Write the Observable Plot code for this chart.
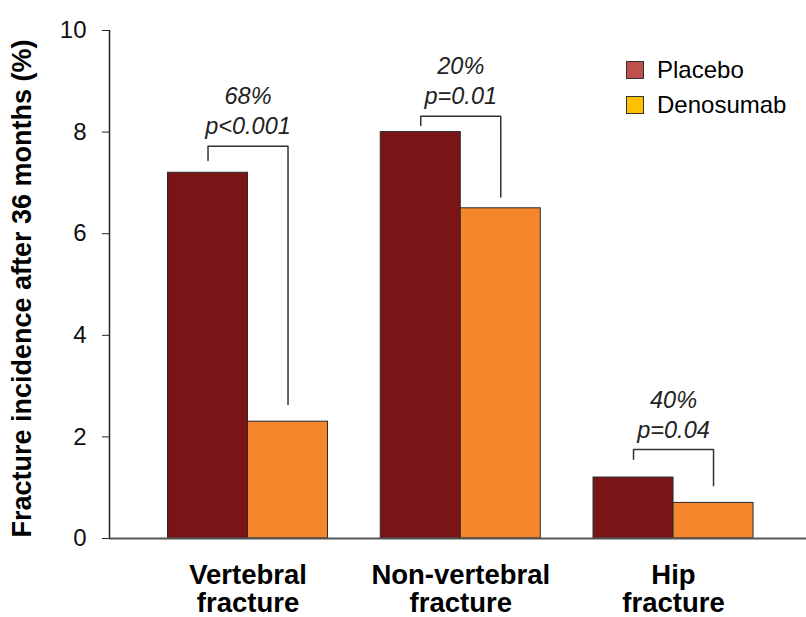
<!DOCTYPE html>
<html><head><meta charset="utf-8">
<script src="https://cdn.jsdelivr.net/npm/d3@7"></script>
<script src="https://cdn.jsdelivr.net/npm/@observablehq/plot@0.6"></script>
<style>
body{margin:0;background:#fff;font-family:"Liberation Sans",Arial,sans-serif}
#wrap{position:relative;width:806px;height:617px}
.legend{position:absolute;left:626px;top:61px;font-size:24px;color:#000;line-height:18px}
.item{display:flex;align-items:center;height:18px;margin-bottom:17px}
.sw{width:16px;height:16px;border:1px solid #333;margin-right:13px;flex:none}
</style></head><body><div id="wrap"></div>
<script>
const categories = ["Vertebral\nfracture", "Non-vertebral\nfracture", "Hip\nfracture"];
const series = ["Placebo", "Denosumab"];
const placebo = [7.2, 8.0, 1.2];
const denosumab = [2.3, 6.5, 0.7];
const reduction = ["68%", "20%", "40%"];
const pValues = ["p<0.001", "p=0.01", "p=0.04"];
const bracketTop = [7.72, 8.31, 1.75];
const bracketLeftEnd = [7.44, 8.13, 1.56];
const bracketRightEnd = [2.64, 6.72, 1.04];
const yTicks = [0, 2, 4, 6, 8, 10];
const yLabel = "Fracture incidence after 36 months (%)";
const barColors = ["#7B1416", "#F5862B"];
const legendColors = ["#C0504D", "#FFC000"];

const bw = 0.376;
const xDomain = [-0.651, 2.625];

const bars = categories.flatMap((c, i) => [
  {i, s: series[0], v: placebo[i], x1: i - bw, x2: i},
  {i, s: series[1], v: denosumab[i], x1: i, x2: i + bw}
]);
const bracketPts = categories.flatMap((c, i) => [
  {z: i, x: i - bw / 2, y: bracketLeftEnd[i]},
  {z: i, x: i - bw / 2, y: bracketTop[i]},
  {z: i, x: i + bw / 2, y: bracketTop[i]},
  {z: i, x: i + bw / 2, y: bracketRightEnd[i]}
]);
const notes = categories.map((c, i) => ({x: i, y: bracketTop[i], t: reduction[i] + "\n" + pValues[i]}));

const chart = Plot.plot({
  width: 806, height: 617,
  marginLeft: 109, marginRight: 0, marginTop: 30, marginBottom: 79,
  style: {fontFamily: '"Liberation Sans", Arial, sans-serif', background: "white", color: "#222"},
  x: {domain: xDomain},
  y: {domain: [0, 10]},
  color: {domain: series, range: barColors},
  marks: [
    Plot.rectY(bars, {x1: "x1", x2: "x2", y: "v", fill: "s", stroke: "#2a2a2a", strokeWidth: 1}),
    Plot.ruleY([0], {stroke: "#555", strokeWidth: 2}),
    Plot.ruleX([xDomain[0]], {y1: 0, y2: 10, stroke: "#222", strokeWidth: 1.5}),
    Plot.line(bracketPts, {x: "x", y: "y", z: "z", stroke: "#333", strokeWidth: 1.5, curve: "linear"}),
    Plot.text(notes, {x: "x", y: "y", text: "t", lineAnchor: "bottom", dy: -12, lineHeight: 1.28,
      fontSize: 23.5, fontStyle: "italic", fill: "#222"}),
    Plot.axisY({ticks: yTicks, tickSize: 7, tickPadding: 16, fontSize: 24, label: null, fill: "#111", stroke: "#222"}),
    Plot.axisX({ticks: [0, 1, 2], tickFormat: i => categories[i], tickSize: 0, tickPadding: 24.5,
      fontSize: 27.5, fontWeight: "bold", lineHeight: 1.05, fill: "#000", label: null}),
    Plot.text([yLabel], {text: d => d, frameAnchor: "left", textAnchor: "middle", rotate: -90, dx: -87, dy: 4,
      fontSize: 27, fontWeight: "bold", fill: "#000"})
  ]
});
const wrap = document.getElementById("wrap");
wrap.appendChild(chart);
const legend = document.createElement("div");
legend.className = "legend";
series.forEach((s, k) => {
  const item = document.createElement("div");
  item.className = "item";
  const sw = document.createElement("span");
  sw.className = "sw";
  sw.style.background = legendColors[k];
  const label = document.createElement("span");
  label.textContent = s;
  item.appendChild(sw);
  item.appendChild(label);
  legend.appendChild(item);
});
wrap.appendChild(legend);
</script></body></html>
